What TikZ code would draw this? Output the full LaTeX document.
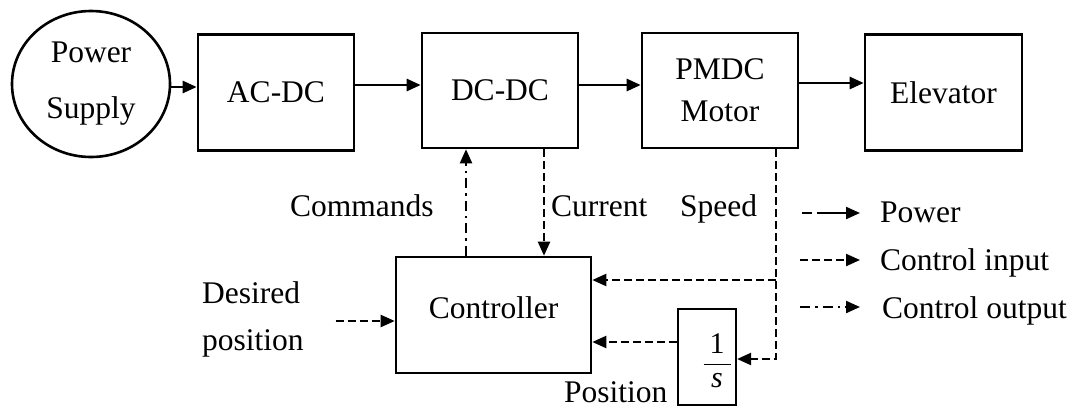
\documentclass[tikz,border=0pt]{standalone}
\usepackage{fontspec}
\setmainfont{Liberation Serif}
\usepackage{amsmath}
\usetikzlibrary{arrows.meta,shapes.geometric,calc}

\begin{document}
\begin{tikzpicture}[x=1pt,y=-1pt,
  every node/.style={font=\fontsize{31.5}{42}\selectfont, inner sep=0pt},
  blk/.style={draw, line width=2.6pt, minimum width=156pt, minimum height=116pt},
  tip/.style={-{Triangle[length=14pt,width=12pt]}},
  pw/.style={tip, line width=2.6pt},
  ci/.style={tip, line width=2.2pt, dash pattern=on 8pt off 4pt},
  co/.style={tip, line width=2.2pt, dash pattern=on 10pt off 5pt on 2.5pt off 5pt},
  lbl/.style={anchor=base west}
]
\useasboundingbox (0,0) rectangle (1073,407);

% power chain
\node[draw, ellipse, line width=2.6pt, minimum width=158pt, minimum height=146pt, align=center]
  (ps) at (91,84) {Power\\[14pt]Supply};
\node[blk] (acdc) at (276,92.5) {AC-DC};
\node[blk, minimum height=115pt] (dcdc) at (500,90.5) {DC-DC};
\node[blk, minimum height=115pt, align=center] (pmdc) at (720,90.5) {PMDC\\Motor};
\node[blk, minimum width=157pt] (elev) at (943.5,92.5) {Elevator};

% control part
\node[blk, minimum width=195pt, text height=21pt, text depth=14pt] (ctrl) at (493.5,315) {Controller};
\node[draw, line width=2.2pt, minimum width=58pt, minimum height=96pt] (int) at (707,357) {};
\node[font=\fontsize{30}{32}\selectfont] (frac) at (717,361)
  {$\displaystyle\genfrac{}{}{1.8pt}{}{\makebox[27pt]{1}}{\textit{s}}$};

% signal labels
\node[lbl] (cmd) at (290,216) {Commands};
\node[lbl] (cur) at (551,216) {Current};
\node[lbl] (spd) at (680,216) {Speed};
\node[lbl] (pos) at (564,402) {Position};
\node[anchor=north west, align=left] (des) at (202,281) {Desired\\[5pt]position};

% power flow
\coordinate (p0) at ([yshift=-3pt]ps.east);
\draw[pw] (p0) -- (p0 -| acdc.west);
\coordinate (p1) at ([yshift=7.5pt]acdc.east);
\draw[pw] (p1) -- (p1 -| dcdc.west);
\coordinate (p2) at ([yshift=5.5pt]dcdc.east);
\draw[pw] (p2) -- (p2 -| pmdc.west);
\coordinate (p3) at ([yshift=7.5pt]pmdc.east);
\draw[pw] (p3) -- (p3 -| elev.west);

% commands and current
\coordinate (cm) at ([xshift=-34pt]dcdc.south);
\draw[co] (cm |- ctrl.north) -- (cm);
\coordinate (cu) at ([xshift=44pt]dcdc.south);
\draw[ci] (cu) -- (cu |- ctrl.north);

% speed feedback and integrator
\coordinate (sx) at ([xshift=56pt]pmdc.south);
\coordinate (sy) at ([yshift=35pt]ctrl.east);
\coordinate (ie) at ([yshift=-2pt]int.east);
\draw[ci] (sx) |- (ie);
\draw[ci] (sx |- sy) -- (sy);
\coordinate (iw) at ([yshift=15pt]int.west);
\draw[ci] (iw) -- (iw -| ctrl.east);

% reference input
\coordinate (cw) at ([yshift=-6pt]ctrl.west);
\coordinate (d0) at ([xshift=-59pt]cw);
\draw[ci] (d0) -- (cw);

% legend
\node[lbl] (t1) at (880,222) {Power};
\node[lbl] (t2) at (880,270) {Control input};
\node[lbl] (t3) at (882,318) {Control output};
\coordinate (l1a) at (802,213); \coordinate (l1b) at (860,213);
\coordinate (l2a) at (800,260); \coordinate (l2b) at (860,260);
\coordinate (l3a) at (800,307); \coordinate (l3b) at (860,307);
\draw[pw, line width=2.2pt, dash pattern=on 10pt off 5pt on 100pt] (l1a) -- (l1b);
\draw[ci] (l2a) -- (l2b);
\draw[co] (l3a) -- (l3b);
\end{tikzpicture}
\end{document}
